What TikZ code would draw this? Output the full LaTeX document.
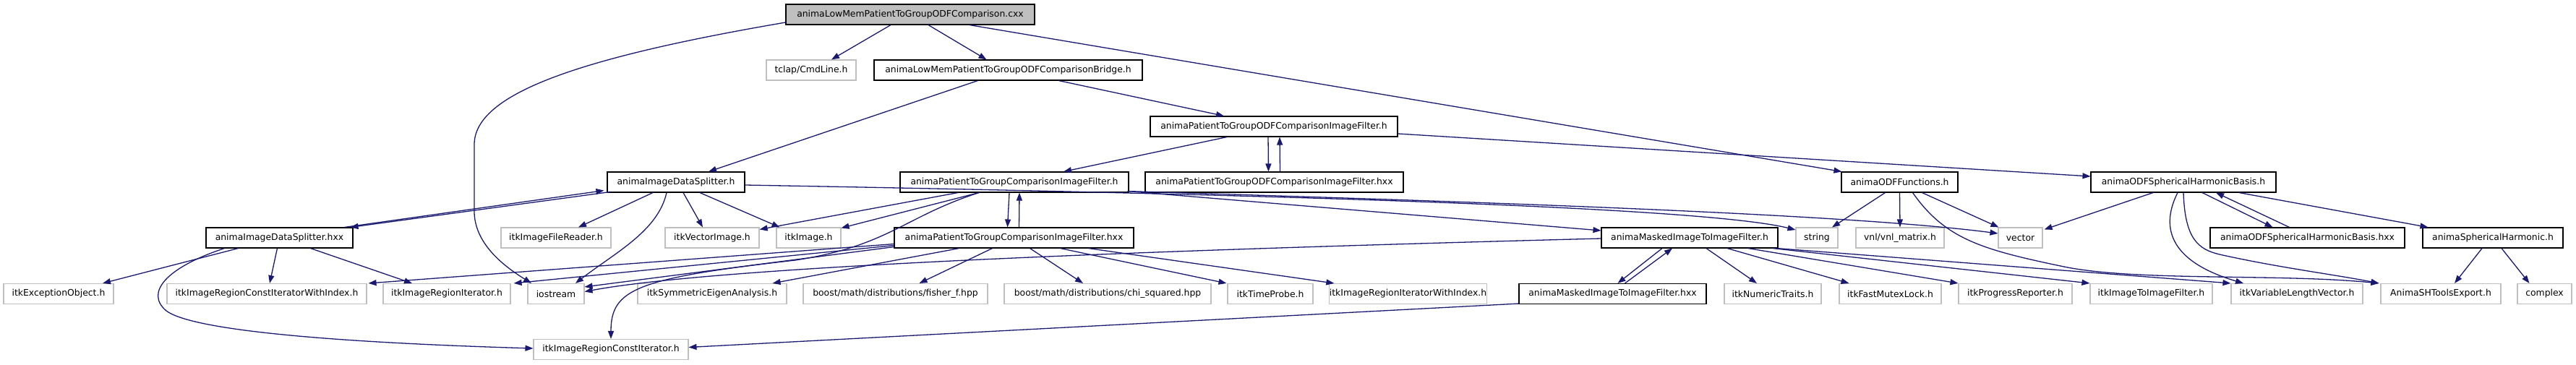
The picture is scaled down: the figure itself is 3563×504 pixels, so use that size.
\documentclass[tikz,border=0pt]{standalone}
\usepackage{fontspec}
\setmainfont{DejaVu Sans}
\usetikzlibrary{arrows.meta}
\definecolor{extgray}{HTML}{BFBFBF}
\definecolor{edgeblue}{HTML}{191970}
\tikzset{
  box/.style={draw=black, line width=1.1pt, fill=white, minimum height=28pt, inner sep=0pt,
    font=\fontsize{12.4}{14}\selectfont},
  ext/.style={box, draw=extgray},
  rootbox/.style={box, fill=extgray},
  dep/.style={draw=edgeblue, line width=1.3pt, -{Triangle[length=11pt,width=8pt]}},
}
\begin{document}
\begin{tikzpicture}[x=1pt,y=-1pt]
\useasboundingbox (0,0) rectangle (3563,504);
% row 0
\node[rootbox, minimum width=344pt] (root) at (1259,20) {animaLowMemPatientToGroupODFComparison.cxx};
% row 1
\node[ext, minimum width=124pt] (tclap) at (1122,97) {tclap/CmdLine.h};
\node[box, minimum width=371pt] (bridge) at (1394.5,97) {animaLowMemPatientToGroupODFComparisonBridge.h};
% row 2
\node[box, minimum width=342pt] (odfcif) at (1762,175) {animaPatientToGroupODFComparisonImageFilter.h};
% row 3
\node[box, minimum width=190pt] (splitter) at (935,252) {animaImageDataSplitter.h};
\node[box, minimum width=316pt] (ptgcif) at (1403,252) {animaPatientToGroupComparisonImageFilter.h};
\node[box, minimum width=357pt] (odfcifhxx) at (1762.5,252) {animaPatientToGroupODFComparisonImageFilter.hxx};
\node[box, minimum width=161pt] (odffun) at (2627.5,252) {animaODFFunctions.h};
\node[box, minimum width=256pt] (odfshb) at (3020,252) {animaODFSphericalHarmonicBasis.h};
% row 4
\node[box, minimum width=203pt] (splitterhxx) at (386.5,329) {animaImageDataSplitter.hxx};
\node[ext, minimum width=152pt] (fileReader) at (769,329) {itkImageFileReader.h};
\node[ext, minimum width=130pt] (vectorImage) at (985,329) {itkVectorImage.h};
\node[ext, minimum width=89pt] (itkImage) at (1118.5,329) {itkImage.h};
\node[box, minimum width=331pt] (ptgcifhxx) at (1402.5,329) {animaPatientToGroupComparisonImageFilter.hxx};
\node[box, minimum width=244pt] (masked) at (2337,329) {animaMaskedImageToImageFilter.h};
\node[ext, minimum width=58pt] (string) at (2513,329) {string};
\node[ext, minimum width=122pt] (vnl) at (2628,329) {vnl/vnl\_matrix.h};
\node[ext, minimum width=61pt] (vector) at (2794.5,329) {vector};
\node[box, minimum width=269pt] (odfshbhxx) at (3191.5,329) {animaODFSphericalHarmonicBasis.hxx};
\node[box, minimum width=194pt] (sph) at (3448,329) {animaSphericalHarmonic.h};
% row 5
\node[ext, minimum width=152pt] (except) at (81,406.5) {itkExceptionObject.h};
\node[ext, minimum width=276pt] (constIterIdx) at (369,406.5) {itkImageRegionConstIteratorWithIndex.h};
\node[ext, minimum width=176pt] (regionIter) at (618,406.5) {itkImageRegionIterator.h};
\node[ext, minimum width=78pt] (iostream) at (769,406.5) {iostream};
\node[ext, minimum width=206pt] (symEig) at (985,406.5) {itkSymmetricEigenAnalysis.h};
\node[ext, minimum width=255pt] (fisher) at (1238.5,406.5) {boost/math/distributions/fisher\_f.hpp};
\node[ext, minimum width=286pt] (chi) at (1532,406.5) {boost/math/distributions/chi\_squared.hpp};
\node[ext, minimum width=118pt] (timeProbe) at (1757,406.5) {itkTimeProbe.h};
\node[ext, minimum width=217pt] (iterIdx) at (1947.5,406.5) {itkImageRegionIteratorWithIndex.h};
\node[box, minimum width=259pt] (maskedhxx) at (2230.5,406.5) {animaMaskedImageToImageFilter.hxx};
\node[ext, minimum width=134pt] (numTraits) at (2452,406.5) {itkNumericTraits.h};
\node[ext, minimum width=141pt] (mutex) at (2614.5,406.5) {itkFastMutexLock.h};
\node[ext, minimum width=157pt] (progress) at (2787.5,406.5) {itkProgressReporter.h};
\node[ext, minimum width=169pt] (img2img) at (2975.5,406.5) {itkImageToImageFilter.h};
\node[ext, minimum width=182pt] (varLen) at (3177,406.5) {itkVariableLengthVector.h};
\node[ext, minimum width=166pt] (shtools) at (3376,406.5) {AnimaSHToolsExport.h};
\node[ext, minimum width=75pt] (complex) at (3519.5,406.5) {complex};
% row 6
\node[ext, minimum width=214pt] (constIter) at (845,483.5) {itkImageRegionConstIterator.h};

% edges from root
\draw[dep] ([xshift=-27pt]root.south) -- ([xshift=28pt]tclap.north);
\draw[dep] ([xshift=25pt]root.south) -- ([xshift=-30pt]bridge.north);
\draw[dep] ([xshift=82pt]root.south) -- ([xshift=1pt]odffun.north west);
\draw[dep] ([yshift=-11pt]root.west) .. controls (800,80) and (656,130) .. (656,200) -- (656,295) .. controls (658,340) and (700,370) .. ([xshift=-34pt]iostream.north);
% bridge
\draw[dep] ([xshift=-42pt]bridge.south) -- ([xshift=45pt]splitter.north);
\draw[dep] ([xshift=70pt]bridge.south) -- ([xshift=-69pt]odfcif.north);
% odf comparison filter
\draw[dep] ([xshift=-65pt]odfcif.south) -- ([xshift=68pt]ptgcif.north);
\draw[dep] ([xshift=-8pt]odfcif.south) -- ([xshift=-8pt]odfcifhxx.north);
\draw[dep] ([xshift=8pt]odfcifhxx.north) -- ([xshift=8pt]odfcif.south);
\draw[dep] ([yshift=-10pt]odfcif.east) -- ([yshift=8pt]odfshb.west);
% splitter
\draw[dep] ([xshift=4pt,yshift=1pt]splitter.south west) -- ([xshift=-4pt]splitterhxx.north east);
\draw[dep] ([xshift=-12pt]splitterhxx.north east) -- ([xshift=-4pt,yshift=3pt]splitter.south west);
\draw[dep] ([xshift=-32pt]splitter.south) -- ([xshift=31pt]fileReader.north);
\draw[dep] ([xshift=-13pt]splitter.south) .. controls (910,320) and (850,350) .. ([xshift=27pt]iostream.north);
\draw[dep] ([xshift=10pt]splitter.south) -- ([xshift=-13pt]vectorImage.north);
\draw[dep] ([xshift=33pt]splitter.south) -- ([xshift=-40pt]itkImage.north);
\draw[dep] ([yshift=-4pt]splitter.east) .. controls (1700,268) and (2350,285) .. ([yshift=11pt]string.west);
% patient to group comparison filter .h
\draw[dep] ([xshift=-2pt,yshift=2pt]ptgcif.south east) .. controls (2000,278) and (2550,295) .. ([yshift=6pt]vector.west);
\draw[dep] ([xshift=-2pt,yshift=2pt]ptgcif.south east) -- ([yshift=10pt]masked.west);
\draw[dep] ([xshift=-78pt]ptgcif.south) -- ([yshift=-3pt]vectorImage.north east);
\draw[dep] ([xshift=-49pt]ptgcif.south) -- ([yshift=-1pt]itkImage.north east);
\draw[dep] ([xshift=-49pt]ptgcif.south) .. controls (1250,300) and (1230,340) .. (1100,360) .. controls (880,385) and (845,400) .. (constIter.north);
\draw[dep] ([xshift=-7pt]ptgcif.south) -- ([xshift=-9pt]ptgcifhxx.north);
\draw[dep] ([xshift=7pt]ptgcifhxx.north) -- ([xshift=7pt]ptgcif.south);
% patient to group comparison filter .hxx
\draw[dep] ([yshift=6pt]ptgcifhxx.south west) -- ([xshift=2pt]constIterIdx.north east);
\draw[dep] ([yshift=4pt]ptgcifhxx.south west) -- ([xshift=4pt]regionIter.north east);
\draw[dep] ([yshift=2pt]ptgcifhxx.south west) -- ([yshift=-5pt]iostream.north east);
\draw[dep] ([xshift=-76pt]ptgcifhxx.south) -- ([xshift=-20pt]symEig.north east);
\draw[dep] ([xshift=-30pt]ptgcifhxx.south) -- ([xshift=33pt]fisher.north);
\draw[dep] ([xshift=22pt]ptgcifhxx.south) -- ([xshift=-34pt]chi.north);
\draw[dep] ([xshift=64pt]ptgcifhxx.south) -- ([xshift=-1pt]timeProbe.north west);
\draw[dep] ([xshift=103pt]ptgcifhxx.south) -- ([xshift=7pt]iterIdx.north west);
% masked filter
\draw[dep] ([yshift=-1pt]masked.west) .. controls (1600,346) and (1000,368) .. ([yshift=3pt]iostream.east);
\draw[dep] ([xshift=-38pt]masked.south) -- ([xshift=7pt]maskedhxx.north);
\draw[dep] ([xshift=17pt]maskedhxx.north) -- ([xshift=-24pt]masked.south);
\draw[dep] ([xshift=23pt]masked.south) -- ([xshift=-22pt]numTraits.north);
\draw[dep] ([xshift=52pt]masked.south) -- ([xshift=-57pt]mutex.north);
\draw[dep] ([xshift=81pt]masked.south) -- (progress.north west);
\draw[dep] ([xshift=115pt]masked.south) -- (img2img.north west);
\draw[dep] ([xshift=-2pt]masked.south east) -- (varLen.north west);
\draw[dep] ([yshift=1pt]maskedhxx.south west) -- ([yshift=3pt]constIter.east);
% splitter hxx
\draw[dep] ([xshift=-57pt]splitterhxx.south) -- ([xshift=61pt]except.north);
\draw[dep] ([xshift=-3pt]splitterhxx.south) -- ([xshift=4pt]constIterIdx.north);
\draw[dep] ([xshift=43pt]splitterhxx.south) -- ([xshift=-48pt]regionIter.north);
\draw[dep] ([xshift=-76pt]splitterhxx.south) .. controls (230,370) and (200,405) .. (230,430) .. controls (270,460) and (500,475) .. ([yshift=1.5pt]constIter.west);
% ODF functions
\draw[dep] ([xshift=-20pt]odffun.south) -- ([xshift=21pt]string.north);
\draw[dep] (odffun.south) -- (vnl.north);
\draw[dep] ([xshift=31pt]odffun.south) -- ([xshift=1pt]vector.north west);
\draw[dep] ([xshift=18pt]odffun.south) .. controls (2690,330) and (2740,345) .. (2850,368) .. controls (2950,390) and (3150,378) .. ([xshift=-2pt]shtools.north west);
% ODF SH basis
\draw[dep] ([xshift=-42pt]odfshb.south) -- ([xshift=2pt,yshift=-3pt]vector.north east);
\draw[dep] ([xshift=-8pt]odfshb.south) .. controls (2990,310) and (2995,360) .. ([xshift=-74pt]varLen.north);
\draw[dep] (odfshb.south) .. controls (3022,330) and (3040,345) .. (3070,352) .. controls (3150,370) and (3230,380) .. ([xshift=-2pt]shtools.north west);
\draw[dep] ([xshift=26pt]odfshb.south) -- ([xshift=-48pt]odfshbhxx.north);
\draw[dep] ([xshift=-25pt]odfshbhxx.north) -- ([xshift=45pt]odfshb.south);
\draw[dep] ([xshift=77pt]odfshb.south) -- ([xshift=8pt]sph.north west);
% spherical harmonic
\draw[dep] ([xshift=-15pt]sph.south) -- ([xshift=19pt]shtools.north);
\draw[dep] ([xshift=12pt]sph.south) -- ([xshift=-21pt]complex.north);
\end{tikzpicture}
\end{document}
